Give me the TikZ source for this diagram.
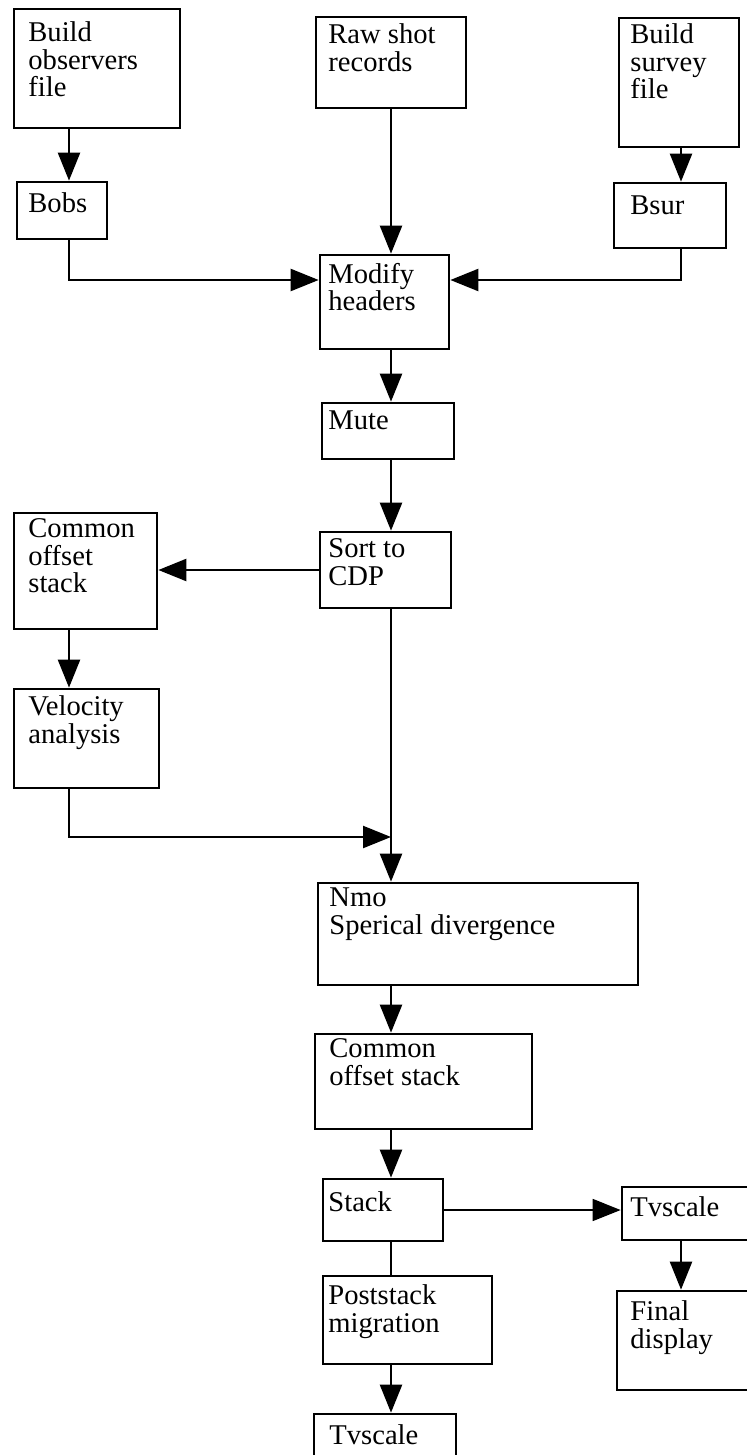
\documentclass[tikz,border=0pt]{standalone}
\usepackage{fontspec}
\setmainfont{Liberation Serif}
\usepackage{tikz}
\usetikzlibrary{shapes,arrows.meta,fit}

\tikzset{
	box/.style={draw, line width=1.35pt, inner sep=0pt},
	lbl/.style={anchor=north west, inner sep=0pt, align=left, font=\fontsize{14.3pt}{13.75pt}\selectfont},
	wire/.style={line width=1.15pt},
	arr/.style={wire, -{Triangle[length=14pt,width=11pt]}}
}

\begin{document}
\begin{tikzpicture}[x=0.5pt,y=-0.5pt]
		\useasboundingbox (0,0) rectangle (747,1455);
		\clip (0,0) rectangle (747,1455);
		\coordinate (lx) at (69,0);
		\coordinate (cx) at (391,0);
		\coordinate (rx) at (681,0);
		\coordinate (hy) at (0,280);
		\coordinate (jn) at (391,837);
		\node[box, fit={(14,9) (180,128)}] (obs) {};
		\node[lbl] (tobs) at (28,21.5) {Build\\observers\\file};
		\node[box, fit={(316,17) (466,108)}] (raw) {};
		\node[lbl] (traw) at (328,23.5) {Raw shot\\records};
		\node[box, fit={(619,18) (739,147)}] (srv) {};
		\node[lbl] (tsrv) at (630,23.5) {Build\\survey\\file};
		\node[box, fit={(17,182) (107,239)}] (bobs) {};
		\node[lbl] (tbobs) at (28,192.5) {Bobs};
		\node[box, fit={(614,183) (726,248)}] (bsur) {};
		\node[lbl] (tbsur) at (630,195.5) {Bsur};
		\node[box, fit={(320,255) (449,349)}] (mod) {};
		\node[lbl] (tmod) at (328,262.5) {Modify\\headers};
		\node[box, fit={(322,403) (454,459)}] (mute) {};
		\node[lbl] (tmute) at (328,410.5) {Mute};
		\node[box, fit={(320,532) (451,608)}] (sort) {};
		\node[lbl] (tsort) at (328,538.5) {Sort to\\CDP};
		\node[box, fit={(14,513) (157,629)}] (coml) {};
		\node[lbl] (tcoml) at (28,518.5) {Common\\offset\\stack};
		\node[box, fit={(14,689) (159,788)}] (vel) {};
		\node[lbl] (tvel) at (28,695.5) {Velocity\\analysis};
		\node[box, fit={(318,883) (638,985)}] (nmo) {};
		\node[lbl] (tnmo) at (329,887.5) {Nmo\\Sperical divergence};
		\node[box, fit={(315,1034) (532,1129)}] (comc) {};
		\node[lbl] (tcomc) at (329,1038.5) {Common\\offset stack};
		\node[box, fit={(323,1179) (443,1241)}] (stk) {};
		\node[lbl] (tstk) at (328,1191.5) {Stack};
		\node[box, fit={(622,1187) (760,1240)}] (tvr) {};
		\node[lbl] (ttvr) at (630,1196.5) {Tvscale};
		\node[box, fit={(617,1291) (760,1390)}] (fin) {};
		\node[lbl] (tfin) at (630,1300.5) {Final\\display};
		\node[box, fit={(323,1276) (492,1364)}] (post) {};
		\node[lbl] (tpost) at (328,1284.5) {Poststack\\migration};
		\node[box, fit={(314,1414) (456,1475)}] (tvb) {};
		\node[lbl] (ttvb) at (329,1424.5) {Tvscale};
		\draw[arr] (obs.south -| lx) -- (bobs.north -| lx);
		\draw[arr] (raw.south -| cx) -- (mod.north -| cx);
		\draw[arr] (srv.south -| rx) -- (bsur.north -| rx);
		\draw[arr] (bobs.south -| lx) |- (mod.west |- hy);
		\draw[arr] (bsur.south -| rx) |- (mod.east |- hy);
		\draw[arr] (mod.south -| cx) -- (mute.north -| cx);
		\draw[arr] (mute.south -| cx) -- (sort.north -| cx);
		\draw[arr] (sort.west) -- (coml.east |- sort.west);
		\draw[arr] (coml.south -| lx) -- (vel.north -| lx);
		\draw[arr] (sort.south -| cx) -- (nmo.north -| cx);
		\draw[arr] (vel.south -| lx) |- (jn);
		\draw[arr] (nmo.south -| cx) -- (comc.north -| cx);
		\draw[arr] (comc.south -| cx) -- (stk.north -| cx);
		\draw[arr, line width=0.8pt] (stk.east) -- (tvr.west |- stk.east);
		\draw[arr] (tvr.south -| rx) -- (fin.north -| rx);
		\draw[wire] (stk.south -| cx) -- (post.north -| cx);
		\draw[arr] (post.south -| cx) -- (tvb.north -| cx);
\end{tikzpicture}
\end{document}
